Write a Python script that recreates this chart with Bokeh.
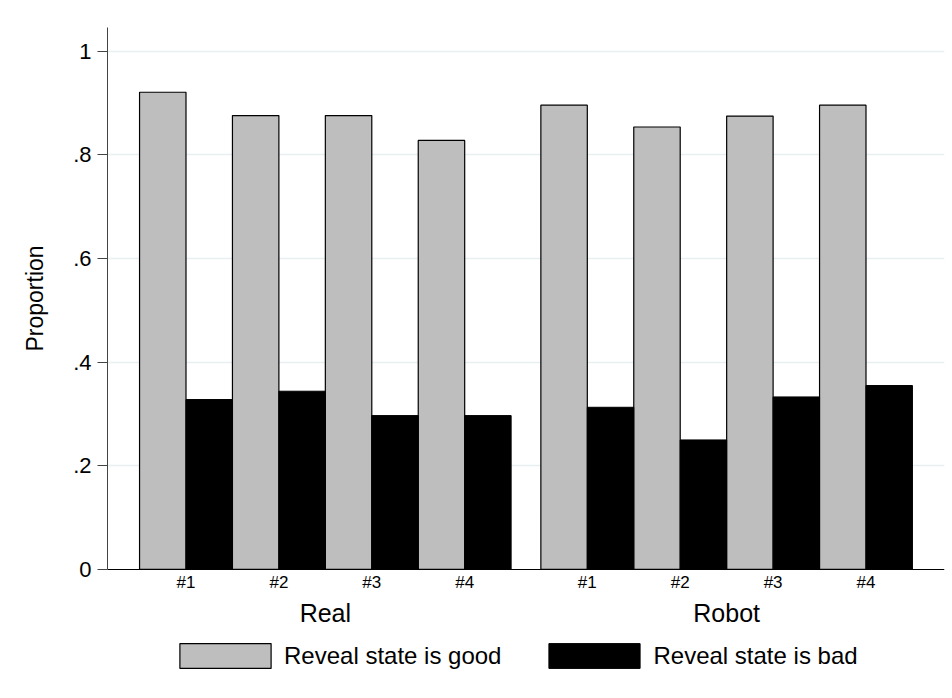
from bokeh.plotting import figure
from bokeh.models import (FactorRange, FixedTicker, Legend, LegendItem,
                          ColumnDataSource, Range1d, Title)
from bokeh.embed import file_html
from bokeh.resources import INLINE
from bokeh.transform import dodge

# ---- data ----
groups = ["Real", "Robot"]
items = ["#1", "#2", "#3", "#4"]
good = [0.921, 0.876, 0.876, 0.828, 0.896, 0.854, 0.875, 0.896]
bad = [0.328, 0.344, 0.297, 0.297, 0.313, 0.250, 0.333, 0.355]
series_names = ["Reveal state is good", "Reveal state is bad"]
y_ticks = [0, 0.2, 0.4, 0.6, 0.8, 1.0]
y_tick_labels = ["0", ".2", ".4", ".6", ".8", "1"]
y_label = "Proportion"

FONT = "Liberation Sans"
Y_TOP = 1.046
Y_BOTTOM = -0.2336  # room below zero for the category labels and legend

factors = [(g, i) for g in groups for i in items]
src = ColumnDataSource(dict(x=factors, good=good, bad=bad))

x_range = FactorRange(*factors, group_padding=0.32, range_padding=0.345,
                      range_padding_units="absolute")

p = figure(width=952, height=698, x_range=x_range,
           y_range=Range1d(Y_BOTTOM, Y_TOP),
           output_backend="svg", toolbar_location=None,
           min_border_left=106, min_border_right=8, min_border_top=27,
           min_border_bottom=8, background_fill_color="white",
           border_fill_color="white")
p.outline_line_color = None

r1 = p.vbar(x=dodge("x", -0.25, range=p.x_range), top="good", width=0.5,
            source=src, fill_color="#bebebe", line_color="black", line_width=1.2)
r2 = p.vbar(x=dodge("x", 0.25, range=p.x_range), top="bad", width=0.5,
            source=src, fill_color="black", line_color="black", line_width=1)

# grid
p.xgrid.grid_line_color = None
p.ygrid.ticker = FixedTicker(ticks=y_ticks[1:])
p.ygrid.grid_line_color = "#e8eff1"
p.ygrid.grid_line_width = 1.5
p.ygrid.level = "underlay"

# y axis
ya = p.yaxis[0]
ya.ticker = FixedTicker(ticks=y_ticks)
ya.bounds = (0, Y_TOP)
ya.major_label_overrides = {t: l for t, l in zip(y_ticks, y_tick_labels)}
ya.axis_line_color = "#444444"
ya.major_tick_line_color = "#444444"
ya.major_tick_out = 10
ya.major_tick_in = 0
ya.minor_tick_line_color = None
ya.major_label_standoff = 6
ya.major_label_text_font = FONT
ya.major_label_text_font_size = "22px"
ya.major_label_text_color = "black"

# y axis title, centred on the 0..1.046 span rather than the whole frame
ytitle = Title(text=y_label, align="left", offset=339, vertical_align="top",
               standoff=42, text_font=FONT, text_font_size="23px",
               text_font_style="normal", text_color="black")
p.add_layout(ytitle, "left")

# x axis at y = 0
xa = p.xaxis[0]
xa.fixed_location = 0
xa.axis_line_color = "black"
xa.major_tick_line_color = None
xa.major_tick_out = 0
xa.major_tick_in = 0
xa.major_label_standoff = 4
xa.major_label_text_font = FONT
xa.major_label_text_font_size = "17px"
xa.major_label_text_color = "black"
xa.group_text_font = FONT
xa.group_text_font_size = "25px"
xa.group_text_font_style = "normal"
xa.group_text_color = "black"
xa.separator_line_color = None

legend = Legend(items=[LegendItem(label=series_names[0], renderers=[r1]),
                       LegendItem(label=series_names[1], renderers=[r2])],
                orientation="horizontal", location=(61, 19),
                glyph_width=114, glyph_height=31, label_standoff=2, spacing=36,
                border_line_color=None, background_fill_alpha=0,
                label_text_font=FONT, label_text_font_size="24px",
                label_text_color="black", padding=0, margin=0)
p.add_layout(legend, "center")

open("out.html", "w").write(file_html(p, INLINE))
